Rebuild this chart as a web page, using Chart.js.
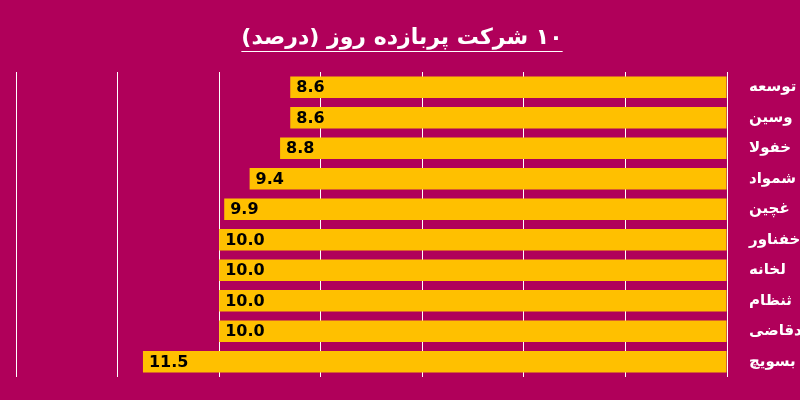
<!DOCTYPE html>
<html><head><meta charset="utf-8">
<script src="https://cdn.jsdelivr.net/npm/chart.js@4"></script>
<style>html,body{margin:0;padding:0;background:#B0005A;}#w{width:800px;height:400px;}</style>
</head><body><div id="w"><canvas id="c"></canvas></div>
<script>
const categories = ["توسعه","وسین","خفولا","شمواد","غچین","خفناور","لخانه","ثنظام","دقاضی","بسویچ"];
const values = [8.6,8.6,8.8,9.4,9.9,10.0,10.0,10.0,10.0,11.5];
const titleText = "۱۰ شرکت پربازده روز (درصد)";

const labelPlugin = {
  id:'lbl',
  afterDatasetsDraw(chart){
    const ctx=chart.ctx, meta=chart.getDatasetMeta(0);
    ctx.save();
    ctx.font='bold 16px "DejaVu Sans"';
    ctx.fillStyle='#000';ctx.textBaseline='middle';ctx.textAlign='left';
    meta.data.forEach((b,i)=>{ctx.fillText(values[i].toFixed(1), b.x+6, b.y+1);});
    ctx.direction='rtl';
    ctx.font='bold 22px "DejaVu Sans"';
    ctx.fillStyle='#fff';ctx.textAlign='center';ctx.textBaseline='alphabetic';
    const cx=402;
    ctx.fillText(titleText,cx,44);
    const w=ctx.measureText(titleText).width;
    ctx.strokeStyle='#fff';ctx.lineWidth=1;
    ctx.beginPath();ctx.moveTo(cx-w/2,51.5);ctx.lineTo(cx+w/2,51.5);ctx.stroke();
    ctx.restore();
  }
};

new Chart(document.getElementById('c'),{
  type:'bar',
  data:{labels:categories,datasets:[{data:values,backgroundColor:'#FFC000',borderWidth:0,categoryPercentage:0.7,barPercentage:1}]},
  options:{
    indexAxis:'y',responsive:true,maintainAspectRatio:false,animation:false,
    layout:{padding:{left:16,right:0,top:72,bottom:14}},
    plugins:{legend:{display:false},tooltip:{enabled:false},title:{display:false}},
    scales:{
      x:{reverse:true,min:0,max:14,ticks:{display:false,stepSize:2},grid:{color:'#fff',drawTicks:false},border:{display:false}},
      y:{position:'right',grid:{display:false},border:{display:false},afterFit(s){s.width=73;},
        ticks:{color:'#fff',font:{family:'"DejaVu Sans"',size:15,weight:'bold'},padding:14}}
    }
  },
  plugins:[labelPlugin]
});
</script></body></html>
